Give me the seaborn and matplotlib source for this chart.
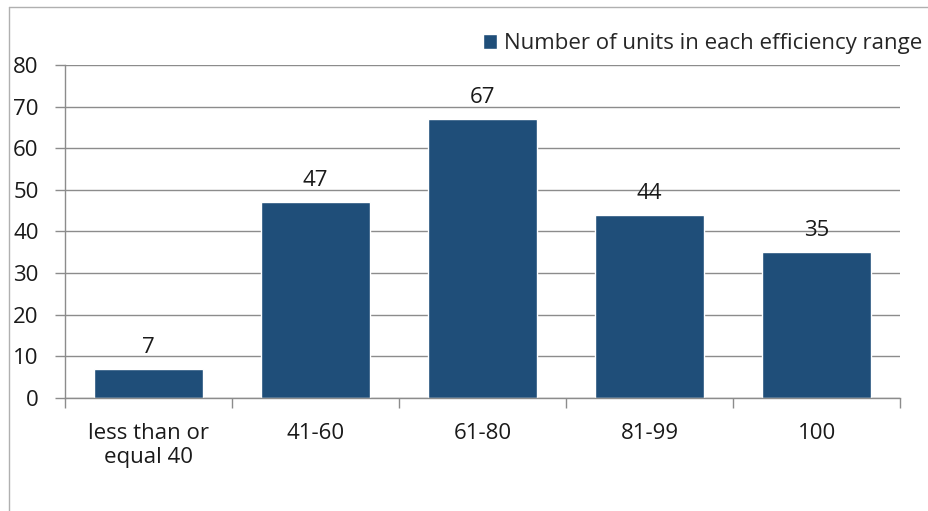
import matplotlib
matplotlib.use("Agg")
import matplotlib.pyplot as plt
from matplotlib.lines import Line2D
import seaborn as sns
import pandas as pd

categories = ["less than or\nequal 40", "41-60", "61-80", "81-99", "100"]
units = [7, 47, 67, 44, 35]
series_name = "Number of units in each efficiency range"

sns.set_style("white")
plt.rcParams['font.family'] = ['Open Sans', 'DejaVu Sans']

df = pd.DataFrame({"range": categories, "units": units})

fig = plt.figure(figsize=(9.29, 5.11), dpi=100)
ax = fig.add_axes([0.070, 0.221, 0.899, 0.652])

sns.barplot(data=df, x="range", y="units", color="#1F4E79", saturation=1,
            width=0.65, ax=ax, label=series_name)

fs = 16
ax.set_ylim(0, 80)
ax.set_xlim(-0.5, len(categories) - 0.5)
ax.set_yticks(range(0, 81, 10))
ax.yaxis.grid(True, color="#8c8c8c", linewidth=1)
ax.set_axisbelow(True)
for side in ["top", "right"]:
    ax.spines[side].set_visible(False)
for side in ["left", "bottom"]:
    ax.spines[side].set_color("#8c8c8c")
    ax.spines[side].set_linewidth(1)

ax.set_xlabel("")
ax.set_ylabel("")
# ticks between categories like Excel
ax.set_xticks([i - 0.5 for i in range(len(categories) + 1)], minor=False)
ax.set_xticklabels([])
ax.set_xticks(range(len(categories)), minor=True)
ax.set_xticklabels(categories, minor=True, fontsize=fs, color="#1a1a1a")
ax.tick_params(axis="x", which="major", length=7, width=1, color="#8c8c8c", direction="out", bottom=True)
ax.tick_params(axis="x", which="minor", length=0, pad=18)
ax.tick_params(axis="y", length=7, width=1, color="#8c8c8c", direction="out", left=True,
               labelsize=fs, labelcolor="#1a1a1a", pad=12)

for c in ax.containers:
    ax.bar_label(c, padding=8, fontsize=fs, color="#1a1a1a")

ax.legend(loc="center right", bbox_to_anchor=(1.037, 1.063), frameon=False, fontsize=fs,
          handlelength=0.65, handleheight=0.65, handletextpad=0.3, borderaxespad=0)

# chart area border (left and top)
fig.add_artist(Line2D([0.0097, 0.0097], [0, 0.986], color="#b0b0b0", linewidth=1))
fig.add_artist(Line2D([0.0097, 1.0], [0.986, 0.986], color="#b0b0b0", linewidth=1))

fig.savefig("out.png", dpi=100)
